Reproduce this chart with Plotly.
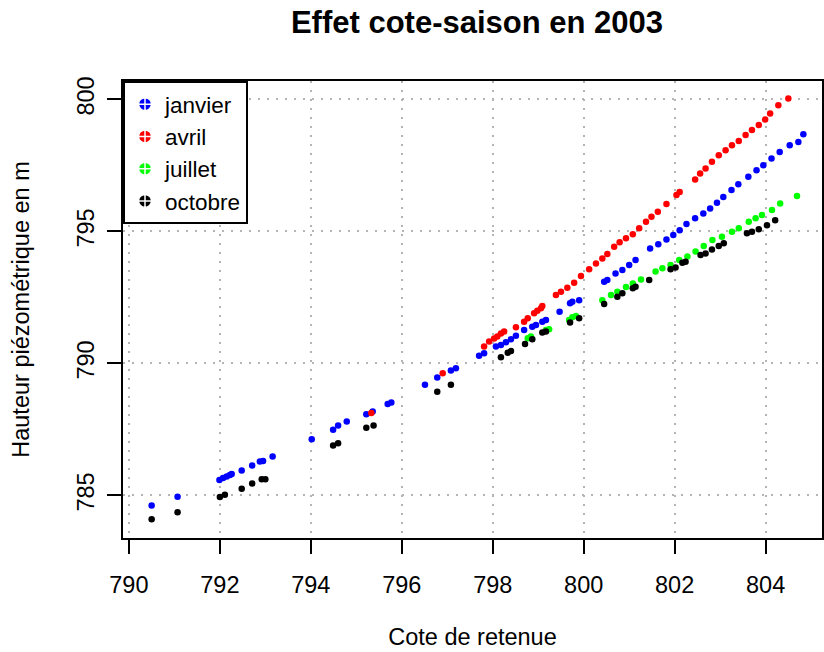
import plotly.graph_objects as go

# ---- data ----
janvier_x = [790.50, 791.07, 791.99, 792.07, 792.15, 792.22, 792.26, 792.48, 792.71, 792.88, 792.95, 793.16,
             794.02, 794.49, 794.60, 794.79, 795.22, 795.36, 795.69, 795.77, 796.51, 796.78, 797.08, 797.19,
             797.70, 797.81, 798.07, 798.18, 798.29, 798.40, 798.51, 798.69, 798.87, 798.95, 799.09, 799.17,
             799.47, 799.70, 799.75, 799.90, 800.45, 800.52, 800.70, 800.85, 801.00, 801.14, 801.46, 801.64,
             801.82, 801.97, 802.11, 802.26, 802.45, 802.63, 802.78, 802.93, 803.07, 803.25, 803.40, 803.62,
             803.80, 803.95, 804.13, 804.31, 804.53, 804.72, 804.83]
janvier_y = [784.62, 784.95, 785.59, 785.66, 785.72, 785.78, 785.81, 785.95, 786.14, 786.29, 786.31, 786.48,
             787.13, 787.49, 787.65, 787.80, 788.08, 788.18, 788.47, 788.52, 789.19, 789.47, 789.73, 789.82,
             790.29, 790.39, 790.64, 790.70, 790.80, 790.92, 791.05, 791.27, 791.39, 791.46, 791.58, 791.65,
             791.96, 792.28, 792.34, 792.40, 793.10, 793.16, 793.41, 793.54, 793.73, 793.92, 794.36, 794.52,
             794.70, 794.87, 795.05, 795.28, 795.50, 795.68, 795.87, 796.09, 796.31, 796.57, 796.79, 797.07,
             797.32, 797.51, 797.76, 798.01, 798.27, 798.39, 798.68]

avril_x = [795.33, 796.90, 797.81, 797.92, 798.03, 798.10, 798.18, 798.25, 798.51, 798.69, 798.77, 798.91,
           798.98, 799.06, 799.09, 799.39, 799.50, 799.64, 799.79, 799.94, 800.12, 800.27, 800.41, 800.52,
           800.67, 800.79, 800.93, 801.08, 801.22, 801.37, 801.49, 801.63, 801.82, 802.04, 802.11, 802.45,
           802.56, 802.68, 802.82, 802.97, 803.12, 803.26, 803.41, 803.56, 803.70, 803.85, 803.99, 804.10,
           804.28, 804.50]
avril_y = [788.12, 789.63, 790.64, 790.83, 790.95, 791.02, 791.14, 791.21, 791.37, 791.58, 791.71, 791.90,
           792.00, 792.09, 792.18, 792.59, 792.72, 792.87, 793.06, 793.31, 793.57, 793.79, 793.98, 794.15,
           794.42, 794.59, 794.74, 794.90, 795.12, 795.37, 795.56, 795.75, 796.04, 796.38, 796.50, 796.97,
           797.20, 797.39, 797.64, 797.89, 798.08, 798.27, 798.43, 798.65, 798.84, 799.03, 799.24, 799.47,
           799.78, 800.04]

juillet_x = [798.77, 798.84, 799.17, 799.24, 799.68, 799.75, 799.83, 800.41, 800.60, 800.74, 800.93, 801.08,
             801.26, 801.58, 801.73, 801.91, 802.10, 802.28, 802.46, 802.64, 802.83, 803.04, 803.26, 803.41,
             803.63, 803.78, 803.92, 804.14, 804.32, 804.69]
juillet_y = [790.96, 791.02, 791.27, 791.30, 791.65, 791.75, 791.80, 792.40, 792.59, 792.72, 792.90, 793.03,
             793.18, 793.48, 793.61, 793.73, 793.92, 794.05, 794.24, 794.45, 794.68, 794.80, 794.99, 795.12,
             795.37, 795.50, 795.62, 795.81, 796.06, 796.34]

octobre_x = [790.50, 791.07, 792.00, 792.11, 792.48, 792.71, 792.92, 793.00, 794.49, 794.60, 795.22, 795.38,
             796.78, 797.08, 798.18, 798.33, 798.40, 798.71, 798.87, 799.09, 799.17, 799.70, 799.90, 800.45,
             800.74, 800.85, 801.08, 801.14, 801.44, 801.91, 802.02, 802.17, 802.24, 802.57, 802.68, 802.82,
             802.97, 803.08, 803.59, 803.70, 803.85, 804.03, 804.21]
octobre_y = [784.10, 784.37, 784.94, 785.03, 785.26, 785.45, 785.62, 785.62, 786.89, 786.98, 787.57, 787.65,
             788.93, 789.19, 790.24, 790.41, 790.47, 790.74, 790.92, 791.17, 791.21, 791.55, 791.71, 792.25,
             792.53, 792.66, 792.85, 792.91, 793.16, 793.57, 793.64, 793.82, 793.85, 794.11, 794.17, 794.32,
             794.45, 794.55, 794.93, 794.99, 795.08, 795.24, 795.43]

series_names = ["janvier", "avril", "juillet", "octobre"]
series_colors = ["#0000ff", "#ff0000", "#00ff00", "#000000"]
series_x = [janvier_x, avril_x, juillet_x, octobre_x]
series_y = [janvier_y, avril_y, juillet_y, octobre_y]

x_ticks = [790, 792, 794, 796, 798, 800, 802, 804]
y_ticks = [785, 790, 795, 800]

FONT = "Liberation Sans, Arial, sans-serif"
TXT = 23.5

fig = go.Figure()
for name, col, xs, ys in zip(series_names, series_colors, series_x, series_y):
    fig.add_trace(go.Scatter(x=xs, y=ys, mode="markers", name=name, showlegend=False,
                             marker=dict(color=col, size=6.5, line=dict(width=0))))
for name, col in zip(series_names, series_colors):
    fig.add_trace(go.Scatter(x=[None], y=[None], mode="markers", name=name, showlegend=True,
                             marker=dict(color=col, size=13, symbol="circle-cross",
                                         line=dict(color="white", width=1.5))))

GRID = dict(showgrid=True, gridcolor="#b4b4b4", griddash="1.5px,7.5px", gridwidth=1.5)

fig.update_layout(
    width=824, height=652,
    margin=dict(l=123, r=0, t=81, b=114),
    paper_bgcolor="white", plot_bgcolor="white",
    font=dict(family=FONT, color="black", size=TXT),
    title=dict(text="<b>Effet cote-saison en 2003</b>", x=477 / 824, xanchor="center",
               y=1 - 22 / 652, yanchor="middle", xref="container", yref="container",
               font=dict(size=31, family=FONT)),
    legend=dict(x=0, y=1, xanchor="left", yanchor="top", bordercolor="black", borderwidth=2,
                bgcolor="white", font=dict(size=22.5, family=FONT), itemsizing="trace",
                tracegroupgap=0),
)
fig.update_xaxes(range=[789.87, 805.24], tickvals=x_ticks, ticktext=[str(v) for v in x_ticks],
                 showline=True, linecolor="black", linewidth=2, mirror=True,
                 ticks="outside", ticklen=14, tickwidth=2, tickcolor="black",
                 zeroline=False, tickfont=dict(size=TXT), ticklabelstandoff=11,
                 title=dict(text="Cote de retenue", font=dict(size=TXT), standoff=31), **GRID)
fig.update_yaxes(range=[783.39, 800.70], tickvals=y_ticks, ticktext=[str(v) for v in y_ticks],
                 showline=True, linecolor="black", linewidth=2, mirror=True,
                 ticks="outside", ticklen=14, tickwidth=2, tickcolor="black",
                 zeroline=False, tickfont=dict(size=TXT), tickangle=-90, ticklabelstandoff=4,
                 title=dict(text="Hauteur piézométrique en m", font=dict(size=TXT), standoff=36), **GRID)

fig.write_html("out.html")
